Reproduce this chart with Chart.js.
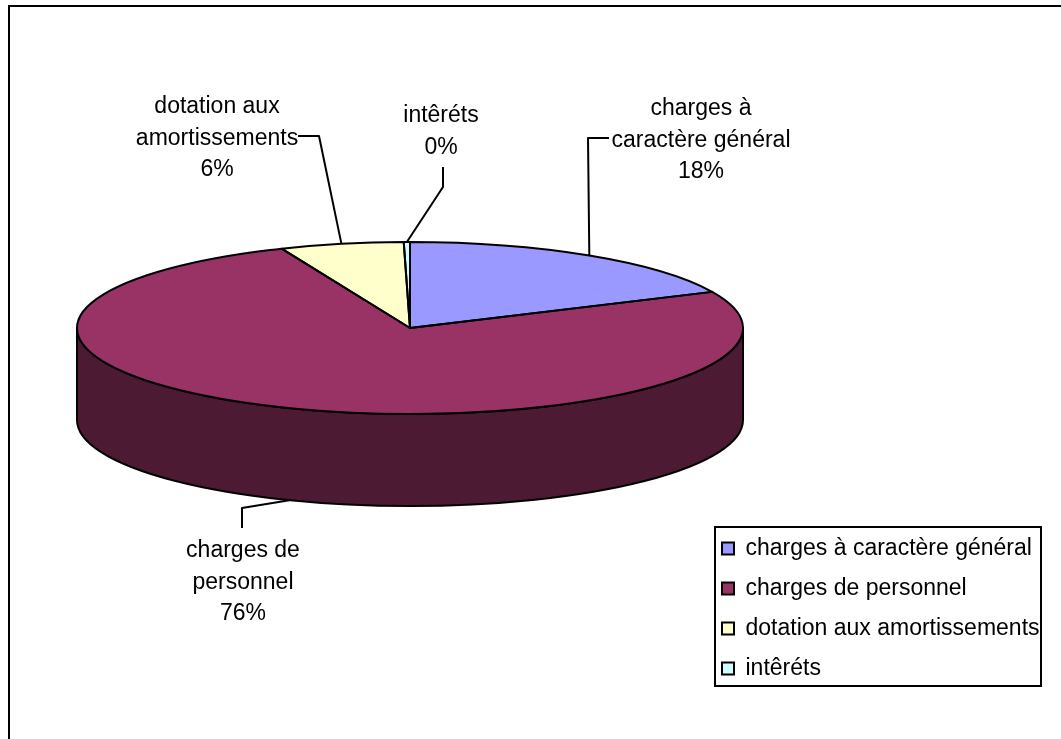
<!DOCTYPE html>
<html lang="fr">
<head>
<meta charset="utf-8">
<title>Répartition des charges</title>
<script src="https://cdn.jsdelivr.net/npm/chart.js@4"></script>
<style>
html,body{margin:0;padding:0;background:#fff;}
canvas{display:block;}
</style>
</head>
<body>
<canvas id="c" width="1061" height="739"></canvas>
<script>
const legendLabels = ['charges à caractère général', 'charges de personnel', 'dotation aux amortissements', 'intêréts'];
const values = [18.1, 75.6, 6.0, 0.3];
const sliceColors = ['#9999FF', '#993366', '#FFFFCC', '#CCFFFF'];
const sideColors = ['#4D4D80', '#4D1A33', '#808066', '#668080'];
const labelLines = [['charges à', 'caractère général'], ['charges de', 'personnel'], ['dotation aux', 'amortissements'], ['intêréts']];

const FONT = '23px "Liberation Sans", Arial, sans-serif';
const PIE = {cx: 410, cy: 328, rx: 333, ry: 86, depth: 92};
const LEADERS = [
  {side: 'top',    elbow: [588, 138], end: [609, 138], textX: 701, textY: [109, 141, 172]},
  {side: 'bottom', elbow: [242, 508], end: [242, 528], textX: 243, textY: [551, 583, 614]},
  {side: 'top',    elbow: [319, 136], end: [298, 136], textX: 217, textY: [107, 139, 170]},
  {side: 'top',    elbow: [443, 187], end: [443, 167], textX: 441, textY: [116, 148]}
];

function tilt(ctx, el) {
  ctx.translate(PIE.cx, PIE.cy);
  ctx.scale(1, PIE.ry / PIE.rx);
  ctx.translate(-el.x, -el.y);
}
function rimPoint(angle, dy) {
  return [PIE.cx + PIE.rx * Math.cos(angle), PIE.cy + PIE.ry * Math.sin(angle) + dy];
}
const threeD = {
  id: 'threeD',
  afterLayout(chart) {
    const area = {left: PIE.cx - PIE.rx, right: PIE.cx + PIE.rx, top: 0, bottom: 2 * PIE.rx};
    area.width = area.right - area.left;
    area.height = area.bottom - area.top;
    chart.chartArea = area;
    const lg = chart.legend;
    lg.left = 705; lg.right = 1061; lg.top = 520; lg.bottom = 739;
    lg.width = lg.right - lg.left; lg.height = lg.bottom - lg.top;
  },
  beforeDraw(chart) {
    const ctx = chart.ctx;
    ctx.save();
    ctx.fillStyle = '#fff';
    ctx.fillRect(0, 0, chart.width, chart.height);
    ctx.fillStyle = '#000';
    ctx.fillRect(8, 5, 1053, 2);
    ctx.fillRect(8, 5, 2, 734);
    ctx.lineWidth = 2;
    ctx.strokeStyle = '#000';
    ctx.strokeRect(715, 527, 326, 159);
    ctx.restore();
  },
  beforeDatasetsDraw(chart) {
    const ctx = chart.ctx, arcs = chart.getDatasetMeta(0).data;
    ctx.save();
    ctx.lineWidth = 2;
    ctx.strokeStyle = '#000';
    ctx.lineJoin = 'round';
    arcs.forEach((el, i) => {
      for (const k of [0, 2 * Math.PI]) {
        const a0 = Math.max(el.startAngle - k, 0), a1 = Math.min(el.endAngle - k, Math.PI);
        if (a1 <= a0) continue;
        ctx.beginPath();
        ctx.ellipse(PIE.cx, PIE.cy, PIE.rx, PIE.ry, 0, a0, a1);
        ctx.ellipse(PIE.cx, PIE.cy + PIE.depth, PIE.rx, PIE.ry, 0, a1, a0, true);
        ctx.closePath();
        ctx.fillStyle = sideColors[i];
        ctx.fill();
        ctx.stroke();
      }
    });
    ctx.restore();
    ctx.save();
    tilt(ctx, arcs[0]);
  },
  afterDatasetsDraw(chart) {
    const ctx = chart.ctx, arcs = chart.getDatasetMeta(0).data;
    ctx.restore();
    ctx.save();
    ctx.strokeStyle = '#000';
    ctx.lineWidth = 2;
    ctx.lineJoin = 'round';
    arcs.forEach(el => {
      ctx.beginPath();
      ctx.moveTo(PIE.cx, PIE.cy);
      ctx.ellipse(PIE.cx, PIE.cy, PIE.rx, PIE.ry, 0, el.startAngle, el.endAngle);
      ctx.closePath();
      ctx.stroke();
    });
    const total = values.reduce((a, b) => a + b, 0);
    ctx.font = FONT;
    ctx.fillStyle = '#000';
    ctx.textAlign = 'center';
    ctx.textBaseline = 'middle';
    arcs.forEach((el, i) => {
      const L = LEADERS[i];
      const mid = (el.startAngle + el.endAngle) / 2;
      const p = rimPoint(mid, L.side === 'bottom' ? PIE.depth : 0);
      ctx.beginPath();
      ctx.moveTo(p[0], p[1]);
      ctx.lineTo(L.elbow[0], L.elbow[1]);
      ctx.lineTo(L.end[0], L.end[1]);
      ctx.stroke();
      const lines = labelLines[i].concat(Math.round(values[i] / total * 100) + '%');
      lines.forEach((t, j) => ctx.fillText(t, L.textX, L.textY[j]));
    });
    ctx.restore();
  }
};

new Chart(document.getElementById('c'), {
  type: 'pie',
  data: {
    labels: legendLabels,
    datasets: [{data: values, backgroundColor: sliceColors, borderWidth: 0, clip: false}]
  },
  options: {
    responsive: false,
    animation: false,
    rotation: 0,
    events: [],
    plugins: {
      tooltip: {enabled: false},
      legend: {
        position: 'right',
        align: 'start',
        labels: {
          font: {family: '"Liberation Sans", Arial, sans-serif', size: 23},
          color: '#000',
          boxWidth: 12,
          boxHeight: 12,
          padding: 17,
          generateLabels: chart => legendLabels.map((text, i) => ({
            text, index: i, fillStyle: sliceColors[i], strokeStyle: '#000', lineWidth: 2, hidden: false
          }))
        }
      }
    }
  },
  plugins: [threeD]
});
</script>
</body>
</html>
